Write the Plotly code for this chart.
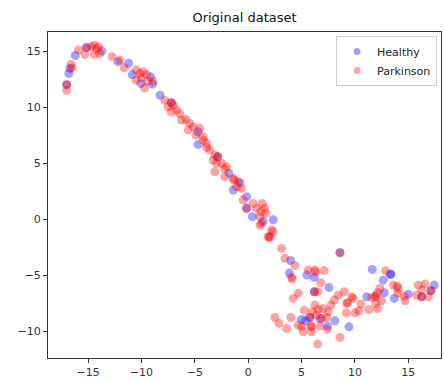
import plotly.graph_objects as go

title_text = "Original dataset"
series_names = ["Healthy", "Parkinson"]

healthy_x = [-17.0, -16.8, -16.7, -16.2, -15.15, -13.7, -12.2, -11.2, -10.85, -10.05,
             -9.15, -8.95, -8.25, -7.2, -4.7, -4.7, -2.85, -1.8, -0.78, -1.4,
             -0.15, -0.15, 0.4, 1.41, 2.34, 3.97, 3.85, 5.5, 6.2, 7.56,
             6.2, 8.6, 5.0, 5.38, 5.78, 6.72, 8.13, 7.44, 9.44, 11.62,
             13.37, 13.3, 12.65, 12.75, 11.1, 13.68, 15.0, 17.43, 17.12, 16.25]
healthy_y = [12.0, 13.0, 13.45, 14.6, 15.3, 15.0, 14.05, 13.9, 12.9, 12.1,
             12.7, 12.05, 11.05, 10.38, 7.8, 6.65, 5.56, 4.08, 3.24, 2.6,
             2.0, 0.96, 0.21, -0.2, -0.06, -3.7, -4.82, -5.0, -5.2, -6.1,
             -6.49, -3.0, -8.96, -9.08, -8.78, -8.87, -9.08, -9.55, -9.62, -4.49,
             -4.91, -4.95, -5.45, -6.58, -6.94, -7.08, -6.7, -5.89, -6.4, -6.94]

parkinson_x = [-17.0, -17.0, -16.6, -16.5, -15.9, -15.3, -15.15, -14.7, -14.4, -14.2,
               -14.4, -14.0, -13.9, -12.75, -12.0, -11.6, -10.5, -10.15, -9.84, -9.5,
               -8.9, -10.5, -9.4, -9.7, -10.0, -7.8, -7.2, -7.5, -7.0, -7.2,
               -6.7, -6.4, -6.24, -5.84, -5.46, -5.62, -5.15, -4.53, -4.9, -4.22,
               -4.2, -3.9, -3.9, -3.59, -3.28, -3.1, -2.85, -2.96, -2.49, -2.02,
               -2.2, -3.12, -2.18, -1.31, -1.4, -0.94, -1.09, -0.62, -0.47, -0.15,
               0.47, 0.79, 1.31, 1.56, 1.66, 1.1, 1.19, 1.25, 1.1, 2.19,
               2.34, 1.87, 2.03, 1.97, 3.13, 3.44, 4.38, 4.06, 4.12, 8.6,
               5.62, 6.25, 6.3, 7.12, 6.81, 6.2, 6.5, 4.69, 4.22, 9.0,
               8.44, 8.06, 7.75, 9.69, 9.32, 5.25, 6.25, 6.56, 5.99, 7.03,
               7.5, 7.35, 6.88, 5.78, 2.5, 2.88, 3.6, 4.0, 4.69, 5.16,
               5.94, 6.72, 7.4, 6.5, 8.6, 5.0, 5.88, 5.94, 6.41, 9.2,
               10.0, 10.37, 9.22, 9.84, 10.56, 11.31, 12.12, 11.56, 11.87, 11.95,
               12.5, 11.94, 12.87, 12.34, 13.59, 13.95, 14.06, 14.0, 14.62, 14.69,
               15.93, 16.56, 17.12, 15.78, 16.25, 16.87, 16.25, 12.1]
parkinson_y = [12.0, 11.5, 13.8, 13.5, 15.1, 14.7, 15.3, 15.4, 15.5, 15.2,
               14.7, 15.4, 14.8, 14.5, 14.2, 13.5, 13.3, 13.0, 13.15, 12.9,
               12.3, 12.4, 12.3, 11.7, 12.6, 10.6, 10.38, 10.03, 10.18, 9.58,
               9.73, 9.4, 8.84, 8.9, 8.54, 7.95, 8.24, 8.1, 7.5, 7.35,
               7.05, 6.76, 6.4, 6.16, 5.27, 5.7, 5.56, 4.97, 4.97, 4.67,
               4.5, 4.22, 3.78, 3.48, 3.63, 3.33, 2.88, 2.74, 1.7, 0.96,
               1.4, 0.96, 1.4, 0.96, 0.51, 0.21, 0.65, -0.38, -0.54, -0.98,
               -1.13, -1.58, -1.58, -1.63, -2.62, -3.5, -4.15, -5.2, -5.35, -3.0,
               -4.55, -4.55, -4.7, -4.6, -5.69, -6.49, -6.49, -6.63, -7.08, -6.49,
               -6.79, -7.23, -7.68, -6.94, -7.47, -8.13, -7.68, -8.07, -8.28, -7.98,
               -8.28, -8.78, -8.87, -8.78, -8.78, -9.31, -9.76, -8.78, -9.46, -10.06,
               -10.06, -9.55, -9.85, -11.16, -10.56, -9.62, -9.55, -9.62, -8.57, -8.37,
               -8.37, -8.19, -7.53, -7.08, -7.59, -8.07, -7.98, -6.99, -6.94, -6.85,
               -7.29, -7.53, -4.62, -6.19, -5.89, -6.0, -6.19, -6.63, -6.88, -7.29,
               -5.89, -5.8, -6.4, -6.79, -6.94, -6.94, -6.34, -6.6]

x_ticks = [-15, -10, -5, 0, 5, 10, 15]
y_ticks = [-10, -5, 0, 5, 10, 15]

colors = ["rgba(0,0,255,0.36)", "rgba(255,0,0,0.36)"]

fig = go.Figure()
fig.add_trace(go.Scatter(x=healthy_x, y=healthy_y, mode="markers", name=series_names[0],
                         showlegend=False, legendgroup="h",
                         marker=dict(size=9, color=colors[0], line=dict(width=0))))
fig.add_trace(go.Scatter(x=parkinson_x, y=parkinson_y, mode="markers", name=series_names[1],
                         showlegend=False, legendgroup="p",
                         marker=dict(size=9, color=colors[1], line=dict(width=0))))
# legend entries (smaller markers, like the reference legend)
for name, col, grp in zip(series_names, colors, ["h", "p"]):
    fig.add_trace(go.Scatter(x=[None], y=[None], mode="markers", name=name, legendgroup=grp,
                             marker=dict(size=7, color=col, line=dict(width=0))))

axis_common = dict(showline=True, linecolor="#333", linewidth=1, mirror=True,
                   ticks="outside", ticklen=4, tickcolor="#333", showgrid=False,
                   zeroline=False, tickfont=dict(family="DejaVu Sans", size=11, color="#333"))

fig.update_layout(
    width=444, height=381,
    margin=dict(l=48, r=3, t=32, b=23),
    paper_bgcolor="white", plot_bgcolor="white",
    title=dict(text=title_text, x=0.5, xref="paper", xanchor="center", y=0.955, yanchor="middle",
               font=dict(family="DejaVu Sans", size=13, color="#111")),
    xaxis=dict(range=[-18.75, 18.06], tickvals=x_ticks,
               ticktext=[str(v).replace("-", "\u2212") for v in x_ticks], **axis_common),
    yaxis=dict(range=[-12.4, 16.7], tickvals=y_ticks,
               ticktext=[str(v).replace("-", "\u2212") for v in y_ticks], **axis_common),
    legend=dict(x=0.99, y=0.988, xanchor="right", yanchor="top",
                bgcolor="rgba(255,255,255,0.8)", bordercolor="#ccc", borderwidth=1,
                font=dict(family="DejaVu Sans", size=11, color="#222"),
                itemsizing="trace", tracegroupgap=0),
    showlegend=True,
)

fig.write_html("out.html")
